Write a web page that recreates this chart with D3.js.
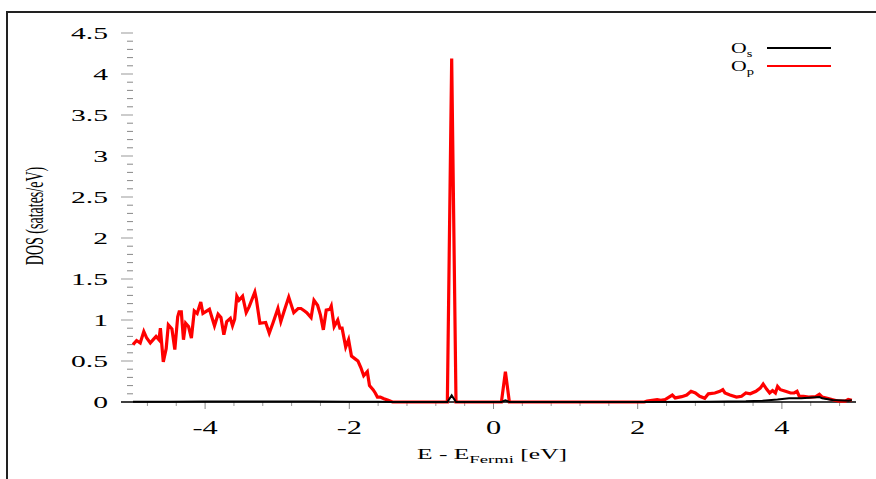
<!DOCTYPE html>
<html>
<head>
<meta charset="utf-8">
<script src="https://cdn.jsdelivr.net/npm/d3@7"></script>
<style>
  html, body { margin: 0; padding: 0; background: #fff; }
  svg { display: block; }
  text { font-family: "Liberation Serif", "DejaVu Serif", serif; fill: #000; }
</style>
</head>
<body>
<svg id="chart" width="876" height="479"></svg>
<script>
// Projected density of states of oxygen: s and p channels (states/eV)
const opEnergy = [-5.00,-4.95,-4.90,-4.85,-4.81,-4.76,-4.72,-4.68,-4.64,-4.62,-4.58,-4.54,-4.51,-4.46,-4.42,-4.38,-4.36,-4.33,-4.30,-4.27,-4.23,-4.19,-4.15,-4.11,-4.06,-4.03,-3.94,-3.87,-3.82,-3.78,-3.74,-3.70,-3.65,-3.62,-3.59,-3.56,-3.53,-3.48,-3.43,-3.39,-3.31,-3.29,-3.24,-3.16,-3.11,-3.06,-2.99,-2.95,-2.90,-2.84,-2.77,-2.71,-2.67,-2.62,-2.59,-2.53,-2.49,-2.44,-2.40,-2.36,-2.32,-2.27,-2.25,-2.21,-2.16,-2.13,-2.10,-2.05,-2.01,-1.97,-1.91,-1.88,-1.84,-1.80,-1.75,-1.72,-1.67,-1.64,-1.61,-1.57,-1.52,-1.46,-1.40,
  -1.00,-0.64,-0.58,-0.52,0.11,0.165,0.22,2.09,
  2.13,2.27,2.32,2.38,2.48,2.52,2.61,2.68,2.74,2.80,2.86,2.93,2.98,3.07,3.14,3.18,3.21,3.28,3.37,3.44,3.50,3.56,3.64,3.70,3.74,3.79,3.83,3.87,3.91,3.94,3.98,4.05,4.12,4.17,4.21,4.24,4.30,4.37,4.47,4.52,4.56,4.63,4.72,4.79,4.88,4.92,4.97];
const opDos = [0.70,0.75,0.72,0.86,0.78,0.72,0.76,0.80,0.76,0.90,0.49,0.65,0.94,0.89,0.64,1.04,1.10,1.10,0.76,0.96,0.92,0.78,1.11,1.08,1.22,1.08,1.13,0.93,1.07,1.03,0.82,0.98,1.02,0.93,1.01,1.29,1.24,1.29,1.09,1.16,1.34,1.26,0.96,0.97,0.84,0.96,1.14,0.98,1.12,1.28,1.09,1.14,1.14,1.11,1.09,1.03,1.24,1.18,1.06,0.88,1.12,1.13,1.17,0.92,1.00,0.90,0.90,0.67,0.76,0.56,0.52,0.50,0.42,0.32,0.37,0.20,0.15,0.11,0.06,0.06,0.04,0.02,0.00,
  0.00,0.00,4.19,0.00,0.00,0.37,0.00,0.00,
  0.01,0.03,0.02,0.03,0.085,0.05,0.065,0.085,0.13,0.11,0.07,0.045,0.10,0.11,0.13,0.15,0.11,0.085,0.06,0.07,0.11,0.10,0.13,0.17,0.22,0.155,0.11,0.14,0.11,0.19,0.15,0.13,0.11,0.11,0.13,0.07,0.07,0.06,0.065,0.095,0.06,0.045,0.025,0.01,0.01,0.03,0.02];

const osEnergy = [-5.00,-4.50,-4.00,-3.50,-3.00,-2.50,-2.00,-1.60,-1.40,-0.64,-0.58,-0.52,0.11,0.165,0.22,2.10,3.00,3.50,3.73,3.94,4.10,4.27,4.42,4.52,4.56,4.70,4.92,4.97];
const osDos = [0.004,0.004,0.006,0.006,0.005,0.005,0.004,0.002,0.000,0.000,0.080,0.000,0.000,0.020,0.000,0.000,0.003,0.008,0.015,0.030,0.045,0.045,0.055,0.060,0.045,0.025,0.015,0.020];

const xMajorTicks = [-4, -2, 0, 2, 4];
const xMinorTicks = [-4.8,-4.4,-3.6,-3.2,-2.8,-2.4,-1.6,-1.2,-0.8,-0.4,0.4,0.8,1.2,1.6,2.4,2.8,3.2,3.6,4.4,4.8];
const yMajorTicks = [0, 0.5, 1, 1.5, 2, 2.5, 3, 3.5, 4, 4.5];
const yTickLabels = ["0", "0.5", "1", "1.5", "2", "2.5", "3", "3.5", "4", "4.5"];

const svg = d3.select("#chart");

const x = d3.scaleLinear().domain([-5, 5]).range([133, 854]);
const y = d3.scaleLinear().domain([0, 4.5]).range([402, 33]);

// outer frame (open at right and bottom)
svg.append("rect")
  .attr("x", 7).attr("y", 12).attr("width", 900).attr("height", 500)
  .attr("fill", "none").attr("stroke", "#222").attr("stroke-width", 2);

// y ticks: major every 0.5, minor every 0.1
const yMinor = d3.range(1, 45).map(i => i / 10).filter(v => Math.abs(v * 2 - Math.round(v * 2)) > 1e-6);
svg.append("g").selectAll("line").data(yMinor).join("line")
  .attr("x1", 127).attr("x2", 133)
  .attr("y1", d => y(d)).attr("y2", d => y(d))
  .attr("stroke", "#888").attr("stroke-width", 1);
svg.append("g").selectAll("line").data(yMajorTicks.filter(v => v > 0)).join("line")
  .attr("x1", 121).attr("x2", 133)
  .attr("y1", d => y(d)).attr("y2", d => y(d))
  .attr("stroke", "#999").attr("stroke-width", 1);

// y tick labels (horizontally stretched serif)
svg.append("g").selectAll("text").data(yMajorTicks).join("text")
  .attr("transform", d => `translate(108,${y(d) + 6}) scale(1.85,1)`)
  .attr("text-anchor", "end")
  .attr("font-size", 16)
  .text((d, i) => yTickLabels[i]);

// x ticks
svg.append("g").selectAll("line").data(xMinorTicks).join("line")
  .attr("x1", d => x(d)).attr("x2", d => x(d))
  .attr("y1", 402).attr("y2", 406)
  .attr("stroke", "#999").attr("stroke-width", 1);
svg.append("g").selectAll("line").data(xMajorTicks).join("line")
  .attr("x1", d => x(d)).attr("x2", d => x(d))
  .attr("y1", 402).attr("y2", 409)
  .attr("stroke", "#888").attr("stroke-width", 1);

svg.append("g").selectAll("text").data(xMajorTicks).join("text")
  .attr("transform", d => `translate(${x(d)},434) scale(1.6,1)`)
  .attr("text-anchor", "middle")
  .attr("font-size", 19)
  .text(d => d < 0 ? "-" + Math.abs(d) : String(d));

// x axis line
svg.append("line")
  .attr("x1", 121).attr("x2", 856).attr("y1", 402).attr("y2", 402)
  .attr("stroke", "#000").attr("stroke-width", 1.5);

// axis titles
const xt = svg.append("text")
  .attr("transform", "translate(492,459) scale(1.7,1)")
  .attr("text-anchor", "middle")
  .attr("font-size", 15);
xt.append("tspan").text("E - E");
xt.append("tspan").attr("font-size", 11).attr("dy", 4).text("Fermi");
xt.append("tspan").attr("dy", -4).text(" [eV]");

svg.append("text")
  .attr("transform", "translate(43,216) scale(1.83,1) rotate(-90)")
  .attr("text-anchor", "middle")
  .attr("font-size", 14)
  .text("DOS (satates/eV)");

// curves
const line = d3.line().x(d => x(d[0])).y(d => y(d[1]));
const opPts = opEnergy.map((e, i) => [e, opDos[i]]);
const osPts = osEnergy.map((e, i) => [e, osDos[i]]);

svg.append("path").datum(opPts)
  .attr("d", line).attr("fill", "none")
  .attr("stroke", "#ff0000").attr("stroke-width", 3.2).attr("stroke-linejoin", "miter");
svg.append("path").datum(osPts)
  .attr("d", line).attr("fill", "none")
  .attr("stroke", "#000").attr("stroke-width", 2);

// legend
const legend = [
  { name: "O", sub: "s", color: "#000", y: 48 },
  { name: "O", sub: "p", color: "#ff0000", y: 66 }
];
const lg = svg.append("g").selectAll("g").data(legend).join("g");
lg.append("line")
  .attr("x1", 767).attr("x2", 831)
  .attr("y1", d => d.y).attr("y2", d => d.y)
  .attr("stroke", d => d.color).attr("stroke-width", 2);
const lt = lg.append("text")
  .attr("transform", d => `translate(731,${d.y + 5}) scale(1.45,1)`)
  .attr("font-size", 15);
lt.append("tspan").text(d => d.name);
lt.append("tspan").attr("font-size", 10).attr("dy", 4).text(d => d.sub);
</script>
</body>
</html>
